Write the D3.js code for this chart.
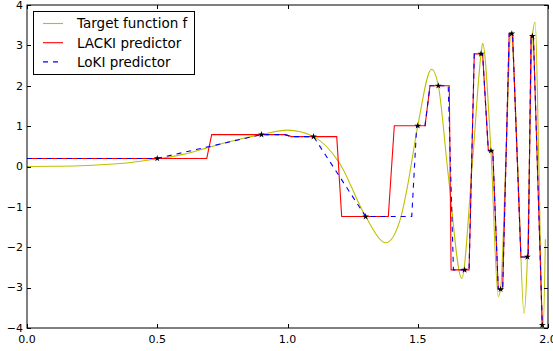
<!DOCTYPE html>
<html>
<head>
<meta charset="utf-8">
<script src="https://cdn.jsdelivr.net/npm/d3@7"></script>
<style>
  html, body { margin: 0; padding: 0; background: #fff; }
  svg { display: block; font-family: "DejaVu Sans", sans-serif; }
</style>
</head>
<body>
<div id="chart"></div>
<script>
// values
const xTicks = [0, 0.5, 1.0, 1.5, 2.0];
const yTicks = [-4, -3, -2, -1, 0, 1, 2, 3, 4];

const targetX = [0, 0.1, 0.2, 0.3, 0.4, 0.5, 0.6, 0.7, 0.8, 0.9, 1.0, 1.1, 1.2, 1.3, 1.378, 1.432, 1.458, 1.5, 1.553, 1.579, 1.617, 1.669, 1.71, 1.743, 1.749, 1.781, 1.809, 1.818, 1.838, 1.858, 1.884, 1.908, 1.921, 1.94, 1.951, 1.965, 1.978, 1.981, 1.99];
const targetY = [0, 0.005, 0.02, 0.05, 0.1, 0.19, 0.3, 0.48, 0.65, 0.79, 0.9, 0.74, 0.08, -1.24, -1.89, -1.33, -0.58, 1.0, 2.41, 2.0, -0.2, -2.77, 0.1, 2.79, 3.05, 0.39, -3.22, -3.04, 0.1, 3.32, 0.0, -3.64, -2.24, 3.23, 3.58, 0.0, -3.93, -4.05, -1.8];

const lackiX = [0, 0.69, 0.709, 0.99, 1.016, 1.189, 1.208, 1.387, 1.41, 1.528, 1.547, 1.621, 1.628, 1.697, 1.717, 1.749, 1.771, 1.788, 1.809, 1.826, 1.851, 1.864, 1.896, 1.924, 1.935, 1.944, 1.978];
const lackiY = [0.2, 0.2, 0.79, 0.79, 0.74, 0.74, -1.24, -1.24, 1.01, 1.01, 2.0, 2.0, -2.56, -2.56, 2.79, 2.79, 0.39, 0.39, -3.04, -3.04, 3.29, 3.29, -2.24, -2.24, 3.23, 3.23, -3.93];

const lokiX = [0, 0.5, 0.9, 0.99, 1.016, 1.1, 1.3, 1.477, 1.496, 1.528, 1.547, 1.617, 1.637, 1.697, 1.717, 1.749, 1.771, 1.788, 1.809, 1.826, 1.851, 1.864, 1.896, 1.924, 1.935, 1.944, 1.978];
const lokiY = [0.2, 0.2, 0.79, 0.79, 0.74, 0.74, -1.24, -1.24, 1.01, 1.01, 2.0, 2.0, -2.56, -2.56, 2.79, 2.79, 0.39, 0.39, -3.04, -3.04, 3.29, 3.29, -2.24, -2.24, 3.23, 3.23, -3.93];

const sampleX = [0.5, 0.9, 1.1, 1.3, 1.5, 1.579, 1.68, 1.743, 1.781, 1.818, 1.861, 1.921, 1.94, 1.978];
const sampleY = [0.2, 0.79, 0.74, -1.24, 1.01, 2.0, -2.56, 2.79, 0.39, -3.04, 3.29, -2.24, 3.23, -3.93];

const legendLabels = ["Target function f", "LACKI predictor", "LoKI predictor"];

const width = 553;
const height = 351;
const margin = {top: 5, right: 5, bottom: 23, left: 27};

const zip = (xs, ys) => xs.map((x, i) => [x, ys[i]]);

const svg = d3.select("#chart")
  .append("svg")
  .attr("width", width)
  .attr("height", height)
  .attr("viewBox", [0, 0, width, height]);

const x = d3.scaleLinear().domain([0, 2]).range([margin.left, width - margin.right]);
const y = d3.scaleLinear().domain([-4, 4]).range([height - margin.bottom, margin.top]);

svg.append("clipPath").attr("id", "plot-clip")
  .append("rect")
  .attr("x", margin.left).attr("y", margin.top)
  .attr("width", width - margin.left - margin.right)
  .attr("height", height - margin.top - margin.bottom);

const plot = svg.append("g").attr("clip-path", "url(#plot-clip)");

// target function (smooth)
plot.append("path")
  .datum(zip(targetX, targetY))
  .attr("fill", "none")
  .attr("stroke", "#bfbf00")
  .attr("stroke-width", 1.1)
  .attr("d", d3.line().x(d => x(d[0])).y(d => y(d[1])).curve(d3.curveMonotoneX));

const straight = d3.line().x(d => x(d[0])).y(d => y(d[1]));

plot.append("path")
  .datum(zip(lackiX, lackiY))
  .attr("fill", "none")
  .attr("stroke", "#ff0000")
  .attr("stroke-width", 1.1)
  .attr("d", straight);

plot.append("path")
  .datum(zip(lokiX, lokiY))
  .attr("fill", "none")
  .attr("stroke", "#0000ff")
  .attr("stroke-width", 1.1)
  .attr("stroke-dasharray", "5,5")
  .attr("d", straight);

// sample points
plot.selectAll("path.star")
  .data(zip(sampleX, sampleY))
  .join("path")
  .attr("class", "star")
  .attr("transform", d => `translate(${x(d[0])},${y(d[1])})`)
  .attr("d", d3.symbol(d3.symbolStar, 14))
  .attr("fill", "#000");

// frame
svg.append("rect")
  .attr("x", x(0)).attr("y", y(4))
  .attr("width", x(2) - x(0)).attr("height", y(-4) - y(4))
  .attr("fill", "none")
  .attr("stroke", "#000")
  .attr("stroke-width", 1);

// ticks (inward, all four sides)
const tickLen = 4;
const ticks = svg.append("g").attr("stroke", "#000").attr("stroke-width", 1);
xTicks.forEach(t => {
  const px = Math.round(x(t)) + 0.5;
  ticks.append("line").attr("x1", px).attr("x2", px).attr("y1", y(-4)).attr("y2", y(-4) - tickLen);
  ticks.append("line").attr("x1", px).attr("x2", px).attr("y1", y(4)).attr("y2", y(4) + tickLen);
});
yTicks.forEach(t => {
  const py = Math.round(y(t)) + 0.5;
  ticks.append("line").attr("x1", x(0)).attr("x2", x(0) + tickLen).attr("y1", py).attr("y2", py);
  ticks.append("line").attr("x1", x(2)).attr("x2", x(2) - tickLen).attr("y1", py).attr("y2", py);
});

const fmtX = d3.format(".1f");
svg.append("g").selectAll("text")
  .data(xTicks)
  .join("text")
  .attr("x", d => x(d))
  .attr("y", height - 8)
  .attr("text-anchor", "middle")
  .attr("font-size", 11)
  .attr("fill", "#000")
  .text(d => fmtX(d));

svg.append("g").selectAll("text")
  .data(yTicks)
  .join("text")
  .attr("x", x(0) - 4)
  .attr("y", d => y(d))
  .attr("dy", "0.35em")
  .attr("text-anchor", "end")
  .attr("font-size", 11)
  .attr("fill", "#000")
  .text(d => d3.format("d")(d).replace("-", "\u2212"));

// legend
const legend = svg.append("g");
legend.append("rect")
  .attr("x", 33.5).attr("y", 11.5)
  .attr("width", 161).attr("height", 63)
  .attr("fill", "#fff")
  .attr("stroke", "#000")
  .attr("stroke-width", 1);

const legendStyles = [
  {stroke: "#bfbf00", dash: null},
  {stroke: "#ff0000", dash: null},
  {stroke: "#0000ff", dash: "5,5"}
];
legendLabels.forEach((label, i) => {
  const ly = 23.5 + i * 19.2;
  legend.append("line")
    .attr("x1", 43).attr("x2", 63)
    .attr("y1", ly).attr("y2", ly)
    .attr("stroke", legendStyles[i].stroke)
    .attr("stroke-width", 1.1)
    .attr("stroke-dasharray", legendStyles[i].dash);
  legend.append("text")
    .attr("x", 77)
    .attr("y", ly)
    .attr("dy", "0.36em")
    .attr("font-size", 13.5)
    .attr("fill", "#000")
    .text(label);
});
</script>
</body>
</html>
